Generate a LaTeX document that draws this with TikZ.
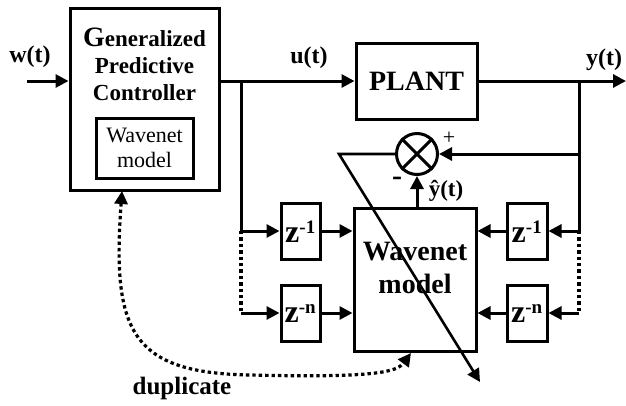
\documentclass[tikz,border=0pt]{standalone}
\usepackage{fontspec}
\setmainfont{Liberation Serif}
\usetikzlibrary{arrows.meta,calc}
\begin{document}
\begin{tikzpicture}[x=1pt,y=-1pt,
  ln/.style={line width=3pt},
  arr/.style={ln,-{Triangle[length=13pt,width=13pt]}},
  dots/.style={line width=3.2pt,dash pattern=on 3.4pt off 3pt},
  blk/.style={draw,line width=3pt,inner sep=0pt},
  lbl/.style={font=\fontsize{23}{27}\selectfont\bfseries,inner sep=0pt},
  zlbl/.style={font=\fontsize{32}{32}\selectfont\bfseries,inner sep=0pt}
]
\useasboundingbox (0,0) rectangle (626,405);
% blocks
\node[blk,minimum width=149pt,minimum height=182pt] (ctrl) at (144.5,99) {};
\node[lbl,align=center] (ctrltxt) at (144.5,64) {{\fontsize{28}{27}\selectfont G}eneralized\\Predictive\\Controller};
\node[blk,minimum width=97pt,minimum height=60pt,align=center,font=\fontsize{22}{25}\selectfont] (inner) at (144.5,148) {Wavenet\\model};
\node[blk,minimum width=121pt,minimum height=76pt,font=\fontsize{28}{28}\selectfont\bfseries] (plant) at (416.5,81) {PLANT};
\node[draw,circle,line width=3pt,minimum size=41pt,inner sep=0pt] (sum) at (417,154) {};
\draw[line width=3pt] (sum.45) -- (sum.225) (sum.135) -- (sum.315);
\node[blk,minimum width=122pt,minimum height=143pt] (wn) at (415,279.5) {};
\node[font=\fontsize{28}{33}\selectfont\bfseries,align=center,inner sep=0pt] (wntxt) at (415,268) {Wavenet\\model};
\node[blk,minimum width=39pt,minimum height=56pt] (z1l) at (300.5,231) {};
\node[blk,minimum width=39pt,minimum height=56pt] (znl) at (300.5,313) {};
\node[blk,minimum width=40pt,minimum height=56pt] (z1r) at (527,231) {};
\node[blk,minimum width=40pt,minimum height=56pt] (znr) at (527,313) {};
\node[zlbl] (z1lt) at (300.5,232) {z\textsuperscript{\fontsize{19}{19}\selectfont -1}};
\node[zlbl] (znlt) at (300.5,314) {z\textsuperscript{\fontsize{19}{19}\selectfont -n}};
\node[zlbl] (z1rt) at (527,232) {z\textsuperscript{\fontsize{19}{19}\selectfont -1}};
\node[zlbl] (znrt) at (527,314) {z\textsuperscript{\fontsize{19}{19}\selectfont -n}};
% labels
\node[lbl,font=\fontsize{24}{24}\selectfont\bfseries] (wl) at (30,57) {w(t)};
\node[lbl,font=\fontsize{24}{24}\selectfont\bfseries] (ul) at (309,58) {u(t)};
\node[lbl,font=\fontsize{24}{24}\selectfont\bfseries] (yl) at (604,60) {y(t)};
\node[inner sep=0pt,font=\fontsize{22}{22}\selectfont] (plus) at (449,138) {+};
\node[lbl,font=\fontsize{30}{30}\selectfont\bfseries] (minus) at (397,181) {-};
\node[lbl,font=\fontsize{23}{23}\selectfont\bfseries] (yhat) at (446,191) {\^{y}(t)};
\node[lbl,font=\fontsize{25}{25}\selectfont\bfseries] (dup) at (182,388) {duplicate};
% coordinates
\coordinate (win) at (27,81);
\coordinate (yout) at (626,81);
\coordinate (b1) at (241,81);
\coordinate (b2) at (579,81);
\coordinate (l1) at (241,231);
\coordinate (ln) at (241,313);
\coordinate (r1) at (579,231);
\coordinate (rn) at (579,313);
\coordinate (rf) at (579,154);
\coordinate (d1) at (339,154);
\coordinate (d2) at (480,382);
\coordinate (dupa) at (122,191);
\coordinate (dupb) at (411,353);
% connectors
\draw[arr] (win) -- (win -| ctrl.west);
\draw[arr] (ctrl.east |- plant.west) -- (plant.west);
\draw[arr] (plant.east) -- (yout);
\draw[ln] (b1) -- (l1);
\draw[arr] (l1) -- (z1l.west);
\draw[dots] (l1) -- (ln);
\draw[arr] (ln) -- (znl.west);
\draw[arr] (z1l.east) -- (wn.west |- z1l);
\draw[arr] (znl.east) -- (wn.west |- znl);
\draw[ln] (b2) -- (r1);
\draw[arr] (r1) -- (z1r.east);
\draw[dots] (r1) -- (rn);
\draw[arr] (rn) -- (znr.east);
\draw[arr] (z1r.west) -- (wn.east |- z1r);
\draw[arr] (znr.west) -- (wn.east |- znr);
\draw[arr] (rf) -- (sum.east);
\draw[arr] (wn.north -| sum) -- (sum.south);
\draw[arr,line width=2.6pt,line join=miter] (sum.west) -- (d1) -- (d2);
\draw[dots,{Triangle[length=13pt,width=13pt]}-{Triangle[length=13pt,width=13pt]}] (dupa) .. controls (112,330) and (130,373) .. (250,375) .. controls (375,378) and (397,372) .. (dupb);
\end{tikzpicture}
\end{document}
